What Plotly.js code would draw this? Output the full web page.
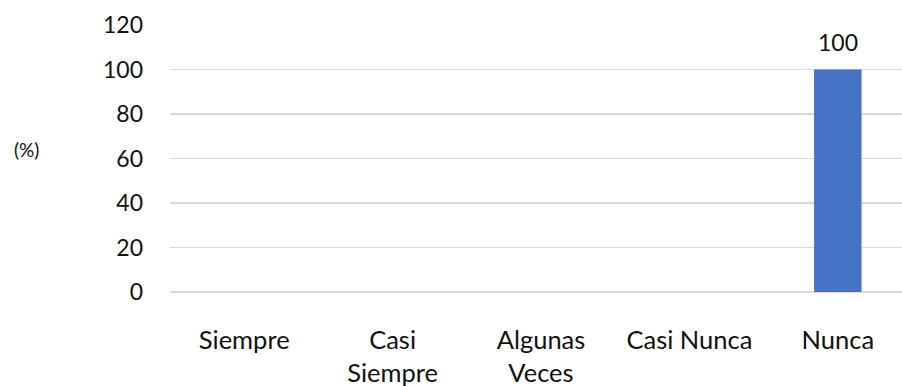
<!DOCTYPE html>
<html>
<head>
<meta charset="utf-8">
<script src="https://cdn.plot.ly/plotly-3.0.1.min.js"></script>
<style>
  html, body { margin: 0; padding: 0; overflow: hidden; background: #fff; }
  #chart { width: 912px; height: 386px; }
</style>
</head>
<body>
<div id="chart"></div>
<script>
// Response categories and their percentages
const categories = ["Siempre", "Casi<br>Siempre", "Algunas<br>Veces", "Casi Nunca", "Nunca"];
const percentages = [0, 0, 0, 0, 100];
const yTickValues = [0, 20, 40, 60, 80, 100, 120];

const FONT = "Lato, 'Open Sans', sans-serif";

// Only non-zero values get a label above their bar
const labelIdx = percentages.map((v, i) => i).filter(i => percentages[i] > 0);

const trace = {
  type: "bar",
  x: categories,
  y: percentages,
  marker: { color: "#4472C4" },
  hoverinfo: "none"
};

const layout = {
  width: 912,
  height: 386,
  margin: { l: 170, r: 0, t: 25, b: 94 },
  paper_bgcolor: "#fff",
  plot_bgcolor: "#fff",
  bargap: 0.68,
  showlegend: false,
  font: { family: FONT, color: "#111" },
  xaxis: {
    type: "category",
    showgrid: false,
    zeroline: false,
    showline: false,
    ticks: "",
    tickfont: { family: FONT, size: 25.5, color: "#111" },
    ticklabelstandoff: 30,
    fixedrange: true
  },
  yaxis: {
    range: [0, 120],
    tickvals: yTickValues,
    ticktext: yTickValues.map(String),
    showgrid: true,
    gridcolor: "#d9d9d9",
    gridwidth: 1.3,
    zeroline: true,
    zerolinecolor: "#d9d9d9",
    zerolinewidth: 1.3,
    showline: false,
    ticks: "",
    tickfont: { family: FONT, size: 23, color: "#111" },
    ticklabelstandoff: 26,
    fixedrange: true
  },
  annotations: [
    {
      text: "(%)",
      xref: "paper", yref: "paper",
      x: -0.193, y: 0.535,
      xanchor: "center", yanchor: "middle",
      showarrow: false,
      font: { family: FONT, size: 19, color: "#111" }
    }
  ].concat(labelIdx.map(i => ({
    text: String(percentages[i]),
    x: categories[i], y: percentages[i],
    xref: "x", yref: "y",
    xanchor: "center", yanchor: "bottom",
    yshift: 12,
    showarrow: false,
    font: { family: FONT, size: 23, color: "#111" }
  })))
};

Plotly.newPlot("chart", [trace], layout, { staticPlot: true, displayModeBar: false });
</script>
</body>
</html>
